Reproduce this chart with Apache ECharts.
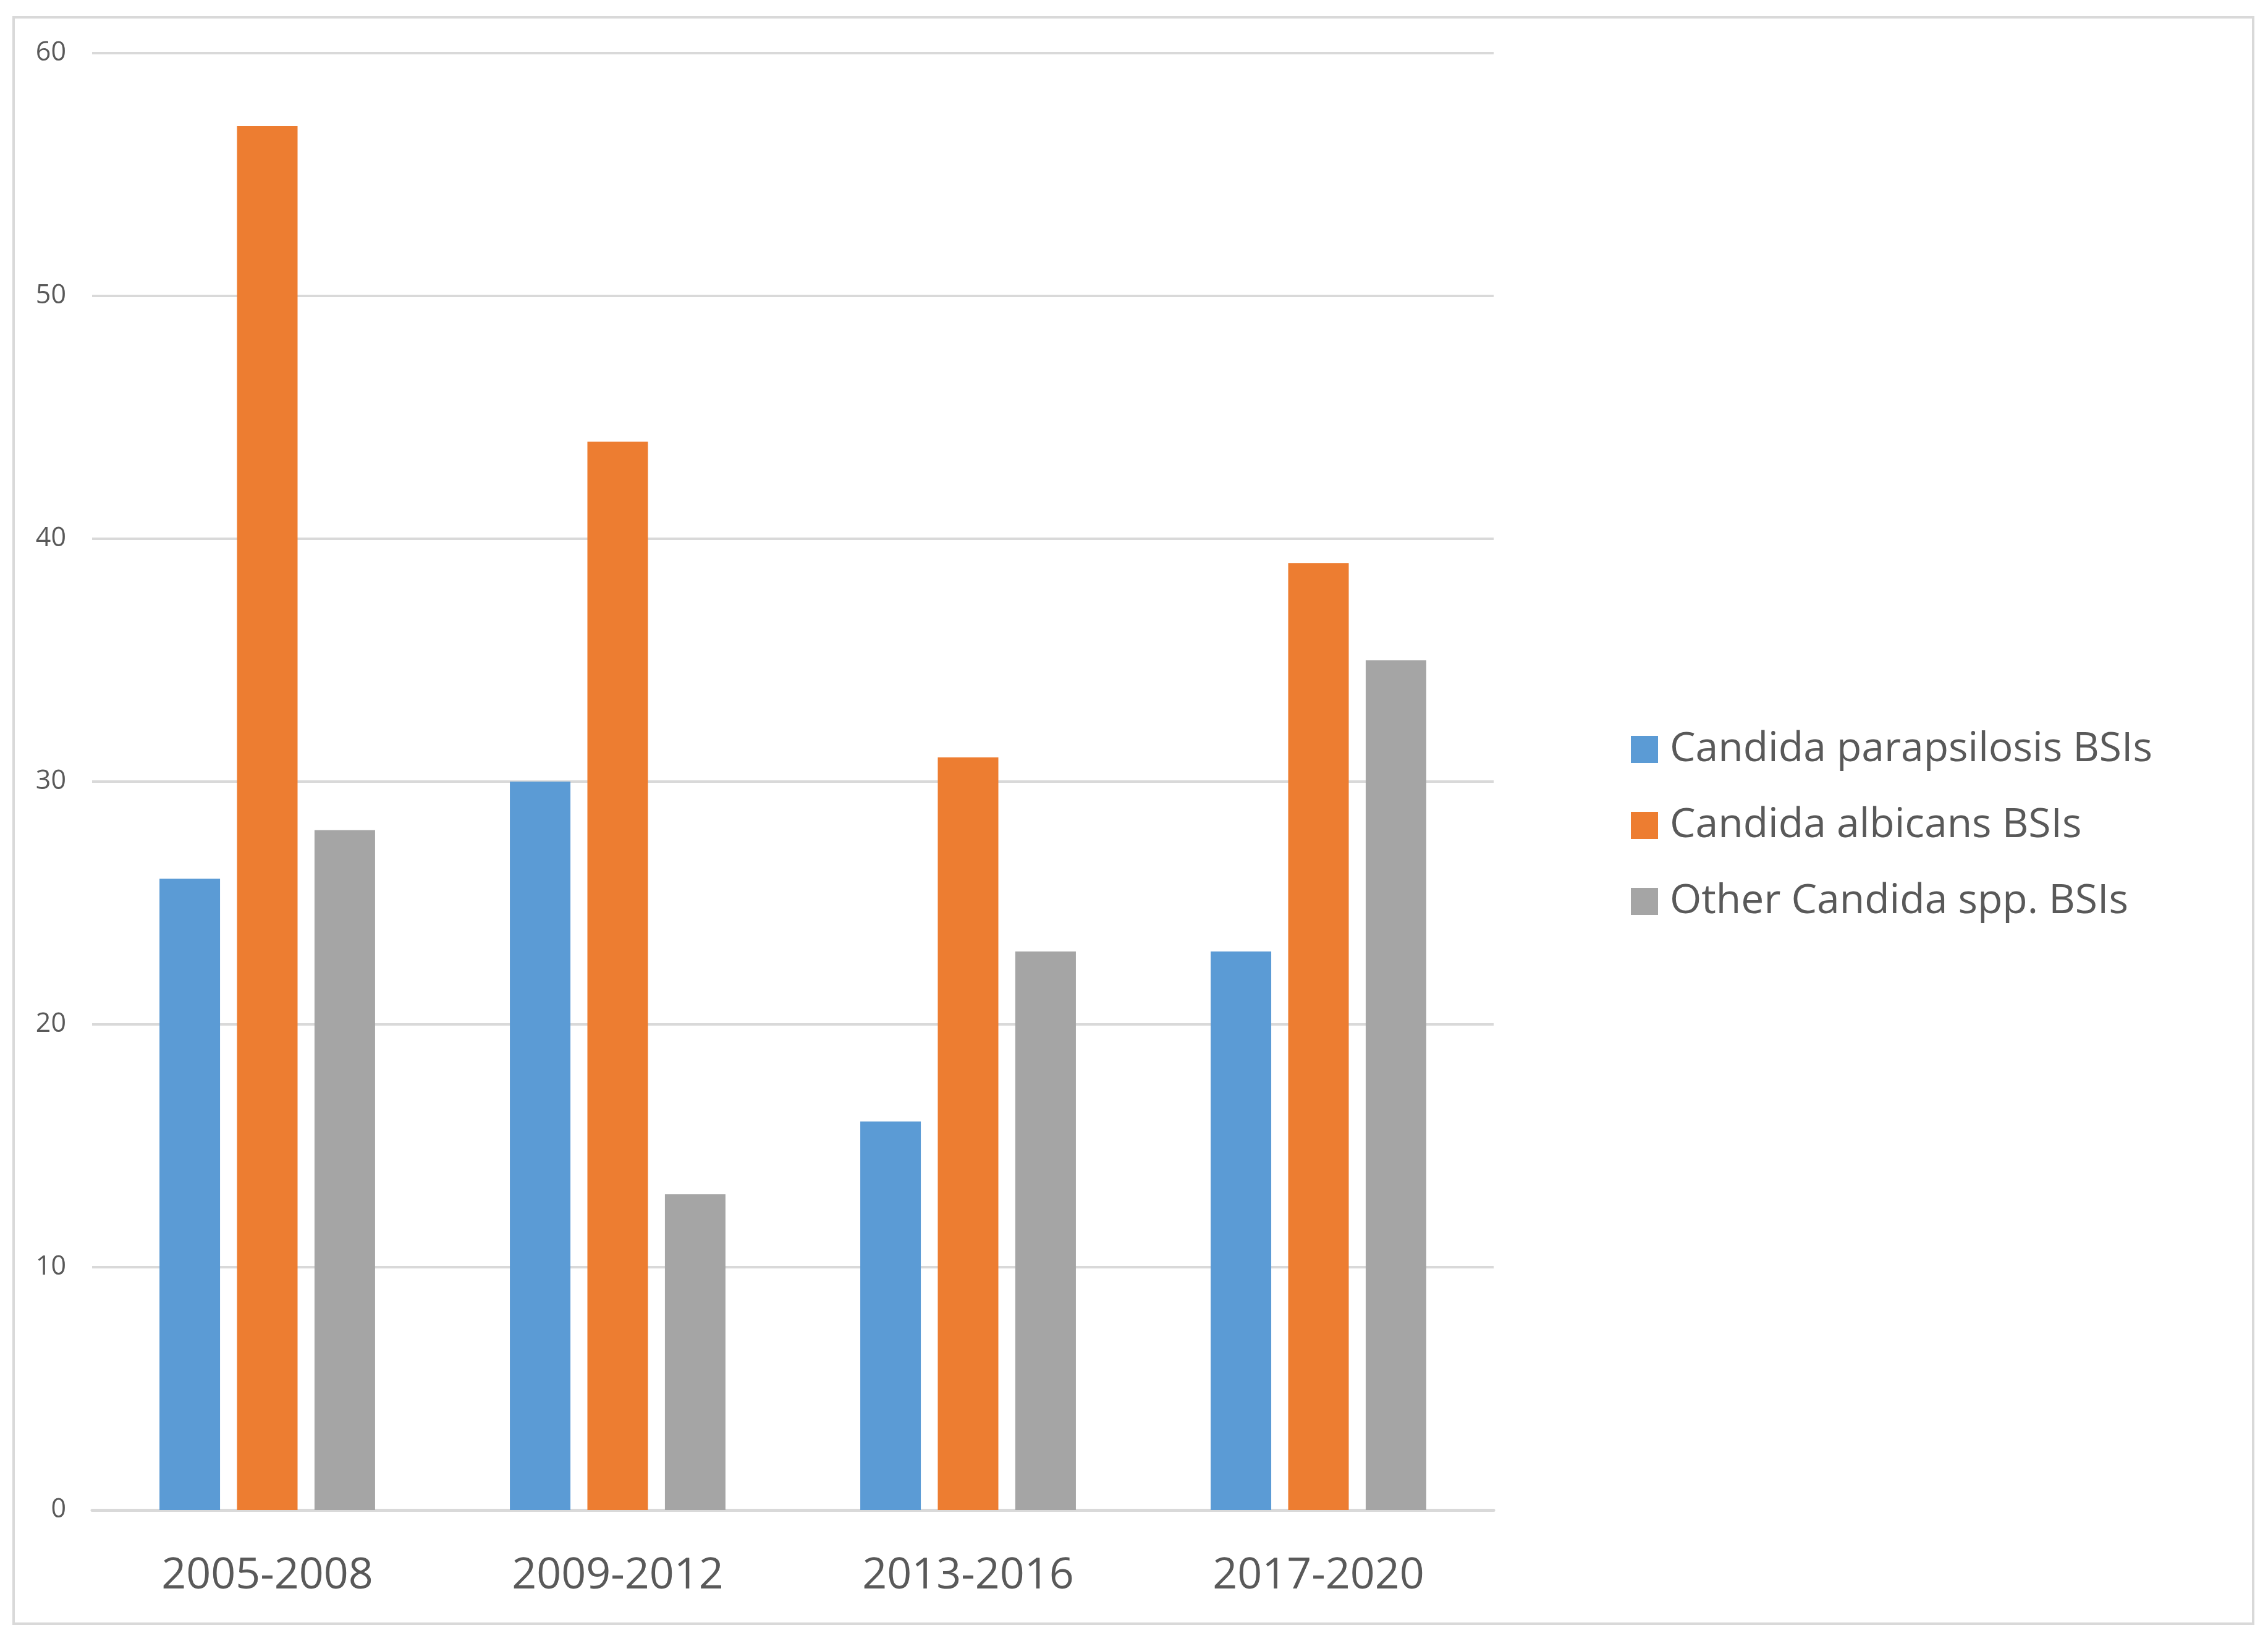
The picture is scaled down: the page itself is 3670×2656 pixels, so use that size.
<!DOCTYPE html>
<html>
<head>
<meta charset="utf-8">
<script src="https://cdn.jsdelivr.net/npm/echarts@6/dist/echarts.min.js"></script>
<style>
html,body{margin:0;padding:0;background:#fff;}
#chart{width:3670px;height:2656px;}
</style>
</head>
<body>
<div id="chart"></div>
<script>
const categories = ['2005-2008', '2009-2012', '2013-2016', '2017-2020'];
const seriesNames = ['Candida parapsilosis BSIs', 'Candida albicans BSIs', 'Other Candida spp. BSIs'];
const parapsilosis = [26, 30, 16, 23];
const albicans = [57, 44, 31, 39];
const otherSpp = [28, 13, 23, 35];
const yTicks = { min: 0, max: 60, interval: 10 };

const colors = ['#5B9BD5', '#ED7D31', '#A5A5A5'];
const textColor = '#595959';
const lineColor = '#D9D9D9';
const font = 'Open Sans';

const chart = echarts.init(document.getElementById('chart'), null, { renderer: 'canvas' });
const values = [parapsilosis, albicans, otherSpp];

chart.setOption({
  animation: false,
  backgroundColor: '#ffffff',
  color: colors,
  graphic: [{
    type: 'rect',
    shape: { x: 22, y: 28, width: 3624, height: 2600 },
    style: { fill: 'none', stroke: lineColor, lineWidth: 4 },
    silent: true
  }],
  grid: { left: 149, right: 1253, top: 86, bottom: 212, containLabel: false },
  legend: {
    orient: 'vertical',
    left: 2634,
    top: 1174,
    itemWidth: 44,
    itemHeight: 44,
    itemGap: 55,
    icon: 'rect',
    data: seriesNames,
    textStyle: { fontFamily: font, fontSize: 66, lineHeight: 68, color: textColor, padding: [0, 0, 0, 14] }
  },
  xAxis: {
    type: 'category',
    data: categories,
    axisLine: { show: true, lineStyle: { color: lineColor, width: 5 } },
    axisTick: { show: false },
    axisLabel: { fontFamily: font, fontSize: 70, color: textColor, margin: 72 }
  },
  yAxis: {
    type: 'value',
    min: yTicks.min,
    max: yTicks.max,
    interval: yTicks.interval,
    axisLine: { show: false },
    axisTick: { show: false },
    splitLine: { lineStyle: { color: lineColor, width: 4 } },
    axisLabel: { fontFamily: font, fontSize: 43, color: textColor, margin: 42 }
  },
  series: seriesNames.map((name, i) => ({
    name: name,
    type: 'bar',
    data: values[i],
    barWidth: 98,
    barGap: '28%',
    itemStyle: { color: colors[i] }
  }))
});
</script>
</body>
</html>
